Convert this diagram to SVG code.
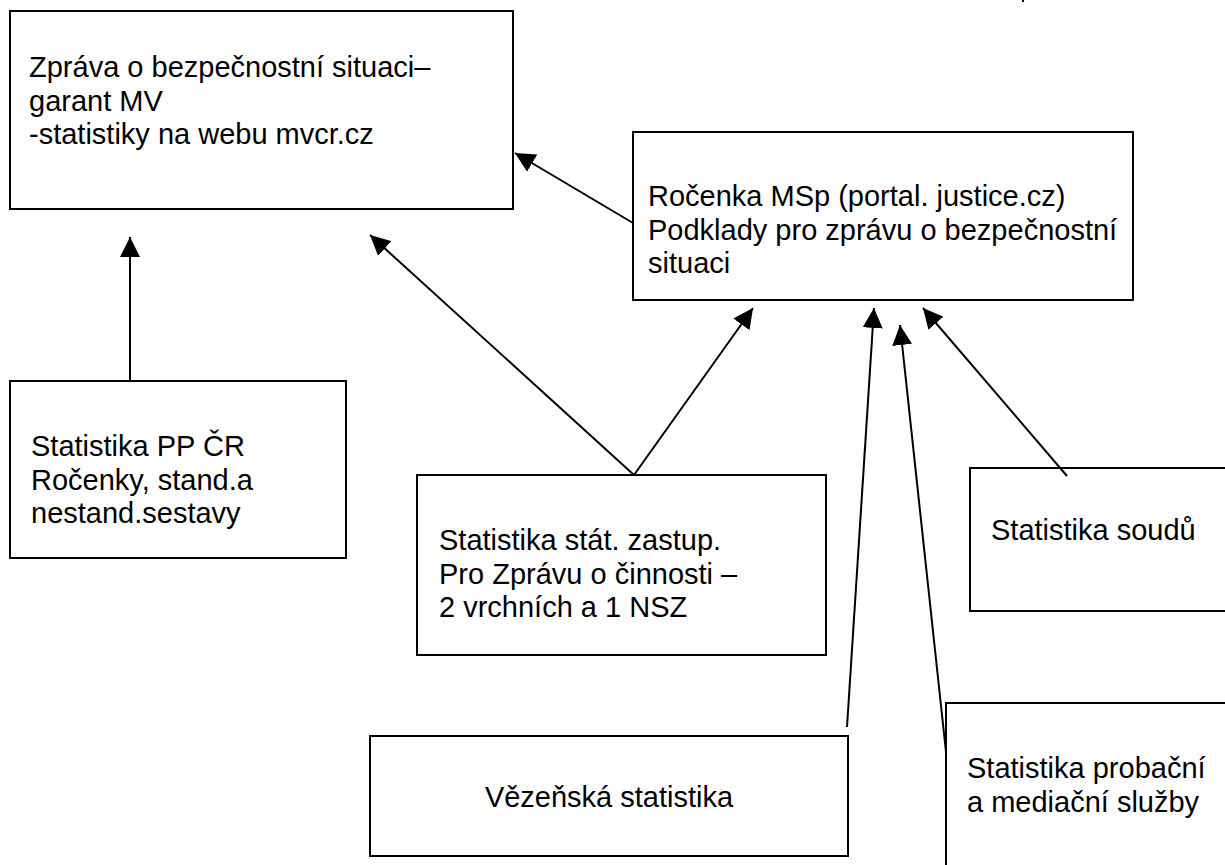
<svg xmlns="http://www.w3.org/2000/svg" width="1225" height="865" viewBox="0 0 1225 865">
<style>
.box{fill:#fff;stroke:#000;stroke-width:2}
.t{font-family:"Liberation Sans",Arial,sans-serif;font-size:29px;fill:#000}
.c line{stroke:#000;stroke-width:2}
</style>
<defs>
<marker id="ah" markerWidth="20" markerHeight="20" refX="20" refY="10" orient="auto" markerUnits="userSpaceOnUse">
<path d="M0,0 L20,10 L0,20 Z" fill="#000"/>
</marker>
</defs>
<rect width="1225" height="865" fill="#fff"/>
<line x1="1023" y1="0" x2="1023" y2="2" stroke="#000" stroke-width="2"/>
<g id="n-zprava">
<rect class="box" x="10" y="11" width="503" height="198"/>
<text class="t" x="29" y="77">Zpráva o bezpečnostní situaci–</text>
<text class="t" x="29" y="110.5">garant MV</text>
<text class="t" x="29" y="144">-statistiky na webu mvcr.cz</text>
</g>
<g id="n-rocenka">
<rect class="box" x="633" y="132" width="500" height="168"/>
<text class="t" x="648" y="206">Ročenka MSp (portal. justice.cz)</text>
<text class="t" x="648" y="239.5">Podklady pro zprávu o bezpečnostní</text>
<text class="t" x="648" y="273">situaci</text>
</g>
<g id="n-pp">
<rect class="box" x="10" y="381" width="336" height="177"/>
<text class="t" x="31" y="456">Statistika PP ČR</text>
<text class="t" x="31" y="489.5">Ročenky, stand.a</text>
<text class="t" x="31" y="523">nestand.sestavy</text>
</g>
<g id="n-statzast">
<rect class="box" x="417" y="475" width="409" height="180"/>
<text class="t" x="439" y="550">Statistika stát. zastup.</text>
<text class="t" x="439" y="583.5">Pro Zprávu o činnosti –</text>
<text class="t" x="439" y="617">2 vrchních a 1 NSZ</text>
</g>
<g id="n-soudu">
<rect class="box" x="970" y="468" width="265" height="143"/>
<text class="t" x="991" y="540">Statistika soudů</text>
</g>
<g id="n-vezenska">
<rect class="box" x="370" y="736" width="478" height="120"/>
<text class="t" x="609" y="807" text-anchor="middle">Vězeňská statistika</text>
</g>
<g id="n-probacni">
<rect class="box" x="946" y="703" width="290" height="170"/>
<text class="t" x="967" y="778">Statistika probační</text>
<text class="t" x="967" y="811.5">a mediační služby</text>
</g>
<g id="connectors" class="c">
<line x1="130" y1="381" x2="130" y2="237" marker-end="url(#ah)"/>
<line x1="633" y1="223" x2="515" y2="153" marker-end="url(#ah)"/>
<line x1="634" y1="475" x2="370" y2="235" marker-end="url(#ah)"/>
<line x1="634" y1="475" x2="753" y2="308" marker-end="url(#ah)"/>
<line x1="847" y1="727" x2="874" y2="308" marker-end="url(#ah)"/>
<line x1="946" y1="752" x2="900" y2="325" marker-end="url(#ah)"/>
<line x1="1067" y1="476" x2="923" y2="308" marker-end="url(#ah)"/>
</g>
</svg>
